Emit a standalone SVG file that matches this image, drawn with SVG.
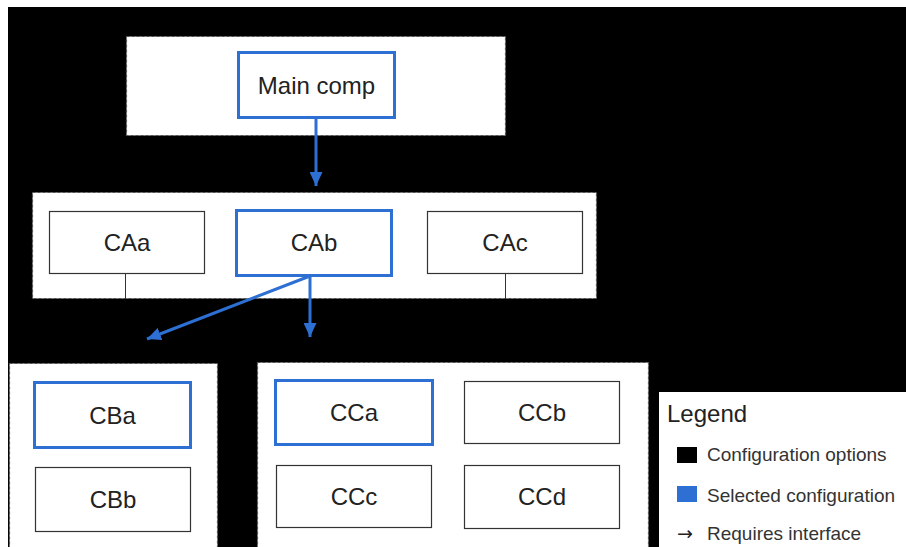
<svg xmlns="http://www.w3.org/2000/svg" width="906" height="547" viewBox="0 0 906 547">
  <defs>
    <style>
      .group { fill: #ffffff; stroke: #555555; stroke-width: 1.2; stroke-dasharray: 3 2; }
      .opt { fill: #ffffff; stroke: #333333; stroke-width: 1.2; }
      .sel { fill: #ffffff; stroke: #2d6fd3; stroke-width: 3; }
      .lbl { font-family: "Liberation Sans", Arial, sans-serif; font-size: 24px; fill: #222222; text-anchor: middle; }
      .leg { font-family: "Liberation Sans", Arial, sans-serif; font-size: 19px; fill: #333333; }
      .req { fill: none; stroke: #2d6fd3; stroke-width: 3; }
      .stub { stroke: #333333; stroke-width: 1; }
    </style>
    <marker id="head" markerUnits="userSpaceOnUse" markerWidth="15" markerHeight="13" refX="14" refY="6.5" orient="auto">
      <path d="M0,0 L14,6.5 L0,13 z" fill="#2d6fd3"/>
    </marker>
  </defs>

  <!-- page background -->
  <rect x="0" y="0" width="906" height="547" fill="#ffffff"/>
  <rect x="8" y="7" width="898" height="540" fill="#000000"/>

  <!-- option groups -->
  <rect class="group" x="126.5" y="36.5" width="379" height="99"/>
  <rect class="group" x="32.5" y="192.5" width="564" height="106"/>
  <rect class="group" x="9.5" y="363.5" width="208" height="190"/>
  <rect class="group" x="257.5" y="362.5" width="391" height="190"/>

  <!-- connectors -->
  <g id="connectors">
    <line class="stub" x1="125.5" y1="274" x2="125.5" y2="299"/>
    <line class="stub" x1="505.5" y1="274" x2="505.5" y2="299"/>
    <line class="req" x1="316" y1="118" x2="316" y2="186" marker-end="url(#head)"/>
    <line class="req" x1="310" y1="276" x2="310" y2="337" marker-end="url(#head)"/>
    <line class="req" x1="310" y1="276" x2="147" y2="339" marker-end="url(#head)"/>
  </g>

  <g id="main-comp">
    <rect class="sel" x="238.5" y="52.5" width="156" height="65"/>
    <text class="lbl" x="316.5" y="93.5">Main comp</text>
  </g>

  <g id="caa">
    <rect class="opt" x="49.5" y="211.5" width="155" height="62"/>
    <text class="lbl" x="127" y="251">CAa</text>
  </g>
  <g id="cab">
    <rect class="sel" x="236.5" y="210.5" width="155" height="65"/>
    <text class="lbl" x="314" y="251">CAb</text>
  </g>
  <g id="cac">
    <rect class="opt" x="427.5" y="211.5" width="155" height="62"/>
    <text class="lbl" x="505" y="251">CAc</text>
  </g>

  <g id="cba">
    <rect class="sel" x="34.5" y="382.5" width="156" height="65"/>
    <text class="lbl" x="112.5" y="423.5">CBa</text>
  </g>
  <g id="cbb">
    <rect class="opt" x="35.5" y="467.5" width="155" height="64"/>
    <text class="lbl" x="113" y="508">CBb</text>
  </g>

  <g id="cca">
    <rect class="sel" x="275.5" y="380.5" width="157" height="64"/>
    <text class="lbl" x="354" y="421">CCa</text>
  </g>
  <g id="ccb">
    <rect class="opt" x="464.5" y="381.5" width="155" height="62"/>
    <text class="lbl" x="542" y="421">CCb</text>
  </g>
  <g id="ccc">
    <rect class="opt" x="276.5" y="465.5" width="155" height="62"/>
    <text class="lbl" x="354" y="505">CCc</text>
  </g>
  <g id="ccd">
    <rect class="opt" x="464.5" y="465.5" width="155" height="63"/>
    <text class="lbl" x="542" y="505">CCd</text>
  </g>

  <!-- legend -->
  <g id="legend">
    <rect x="659" y="392" width="247" height="155" fill="#ffffff"/>
    <text x="667" y="422" font-family="Liberation Sans, Arial, sans-serif" font-size="24" fill="#222222">Legend</text>
    <rect x="677" y="447" width="20" height="16" fill="#000000"/>
    <text class="leg" x="707" y="461">Configuration options</text>
    <rect x="677" y="486" width="20" height="16" fill="#2d6fd3"/>
    <text class="leg" x="707" y="502">Selected configuration</text>
    <text x="677" y="540" font-family="DejaVu Sans, sans-serif" font-size="19" fill="#222222">→</text>
    <text class="leg" x="707" y="540">Requires interface</text>
  </g>
</svg>
